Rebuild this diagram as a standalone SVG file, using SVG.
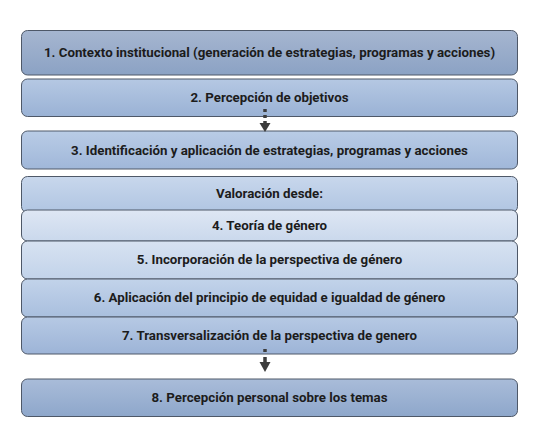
<svg xmlns="http://www.w3.org/2000/svg" width="544" height="438" viewBox="0 0 544 438">
<defs>
<linearGradient id="g1" x1="0" y1="0" x2="0" y2="1"><stop offset="0" stop-color="#A6B6D0"/><stop offset="1" stop-color="#8BA2C4"/></linearGradient>
<linearGradient id="g2" x1="0" y1="0" x2="0" y2="1"><stop offset="0" stop-color="#B5C8E3"/><stop offset="1" stop-color="#9AB2D5"/></linearGradient>
<linearGradient id="g3" x1="0" y1="0" x2="0" y2="1"><stop offset="0" stop-color="#B9CCE6"/><stop offset="1" stop-color="#A0B7D9"/></linearGradient>
<linearGradient id="gv" x1="0" y1="0" x2="0" y2="1"><stop offset="0" stop-color="#C8D7EC"/><stop offset="1" stop-color="#B0C5E2"/></linearGradient>
<linearGradient id="g4" x1="0" y1="0" x2="0" y2="1"><stop offset="0" stop-color="#DEE7F4"/><stop offset="1" stop-color="#CAD8EC"/></linearGradient>
<linearGradient id="g5" x1="0" y1="0" x2="0" y2="1"><stop offset="0" stop-color="#D7E2F1"/><stop offset="1" stop-color="#C2D3EA"/></linearGradient>
<linearGradient id="g6" x1="0" y1="0" x2="0" y2="1"><stop offset="0" stop-color="#C2D3EA"/><stop offset="1" stop-color="#A9BFDE"/></linearGradient>
<linearGradient id="g7" x1="0" y1="0" x2="0" y2="1"><stop offset="0" stop-color="#B6C9E4"/><stop offset="1" stop-color="#9DB4D7"/></linearGradient>
<linearGradient id="g8" x1="0" y1="0" x2="0" y2="1"><stop offset="0" stop-color="#A9BCD9"/><stop offset="1" stop-color="#8EA7CB"/></linearGradient>
</defs>
<style>
.box{stroke:#4E5868;stroke-width:1}
.t{font-family:Roboto,"Liberation Sans",sans-serif;font-weight:bold;font-size:13.3px;fill:#1C1C1C;text-anchor:middle;dominant-baseline:central}
.dash{stroke:#3C3C3C;stroke-width:3.5;stroke-dasharray:3 3;fill:none}
.head{fill:#3C3C3C}
</style>
<rect width="544" height="438" fill="#FFFFFF"/>
<g id="n1"><rect class="box" x="21.5" y="30.5" width="496" height="44.5" rx="6" fill="url(#g1)"/><text class="t" x="269.5" y="52">1. Contexto institucional (generación de estrategias, programas y acciones)</text></g>
<g id="n2"><rect class="box" x="21.5" y="79" width="496" height="37.5" rx="6" fill="url(#g2)"/><text class="t" x="269.5" y="97.5">2. Percepción de objetivos</text></g>
<g id="n3"><rect class="box" x="21.5" y="131" width="496" height="38" rx="6" fill="url(#g3)"/><text class="t" x="269.5" y="150">3. Identificación y aplicación de estrategias, programas y acciones</text></g>
<g id="nv"><rect class="box" x="21.5" y="176.5" width="496" height="36" rx="6" fill="url(#gv)"/><text class="t" x="269.5" y="193.5">Valoración desde:</text></g>
<g id="n4"><rect class="box" x="21.5" y="210" width="496" height="31" rx="6" fill="url(#g4)"/><text class="t" x="269.5" y="225">4. Teoría de género</text></g>
<g id="n5"><rect class="box" x="21.5" y="241" width="496" height="38" rx="6" fill="url(#g5)"/><text class="t" x="269.5" y="259">5. Incorporación de la perspectiva de género</text></g>
<g id="n6"><rect class="box" x="21.5" y="279" width="496" height="38" rx="6" fill="url(#g6)"/><text class="t" x="269.5" y="297.5">6. Aplicación del principio de equidad e igualdad de género</text></g>
<g id="n7"><rect class="box" x="21.5" y="317" width="496" height="37" rx="6" fill="url(#g7)"/><text class="t" x="269.5" y="335">7. Transversalización de la perspectiva de genero</text></g>
<g id="n8"><rect class="box" x="21.5" y="379" width="496" height="37.5" rx="6" fill="url(#g8)"/><text class="t" x="269.5" y="397.5">8. Percepción personal sobre los temas</text></g>
<g id="connectors">
<line class="dash" x1="265" y1="109" x2="265" y2="123"/>
<polygon class="head" points="259.5,123 270.5,123 265,132"/>
<line class="dash" x1="265" y1="349" x2="265" y2="362" style="stroke-dasharray:3 5 5"/>
<polygon class="head" points="259.5,362 270.5,362 265,372"/>
</g>
</svg>
